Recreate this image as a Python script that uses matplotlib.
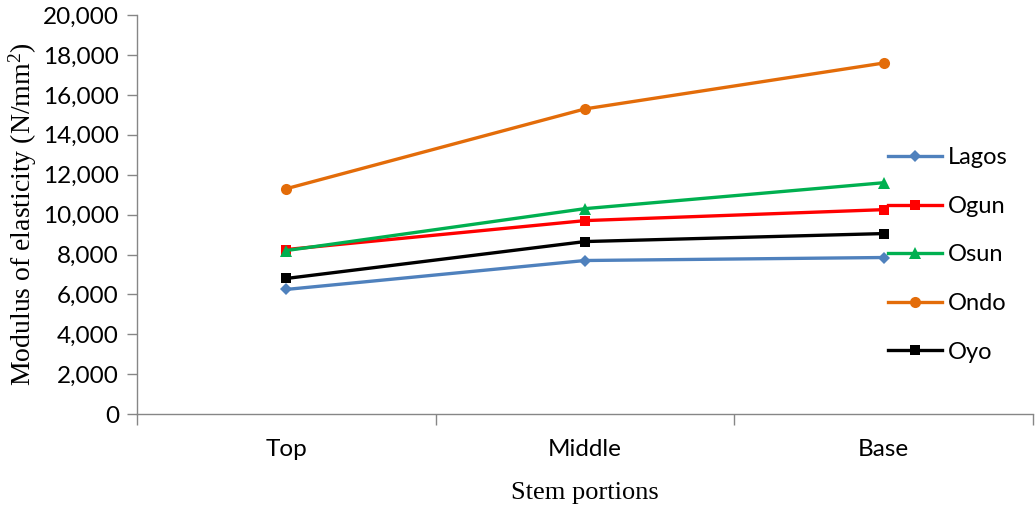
import matplotlib
matplotlib.use("Agg")
import matplotlib.pyplot as plt
from matplotlib.ticker import FuncFormatter, FixedLocator

# Modulus of elasticity by stem portion for five locations
portions = ["Top", "Middle", "Base"]
lagos = [6250, 7700, 7850]
ogun = [8250, 9700, 10250]
osun = [8200, 10300, 11600]
ondo = [11300, 15300, 17600]
oyo = [6800, 8650, 9050]

series = [
    ("Lagos", lagos, "#4F81BD", "D", 6),
    ("Ogun", ogun, "#FF0000", "s", 7.5),
    ("Osun", osun, "#00B050", "^", 8),
    ("Ondo", ondo, "#E36C09", "o", 8),
    ("Oyo", oyo, "#000000", "s", 7.5),
]

plt.rcParams["mathtext.fontset"] = "custom"
plt.rcParams["mathtext.rm"] = "Liberation Serif"
plt.rcParams["mathtext.it"] = "Liberation Serif:italic"

fig = plt.figure(figsize=(10.35, 5.05), dpi=100)
ax = fig.add_axes([0.1324, 0.180, 0.8657, 0.790])

x = list(range(len(portions)))
for name, vals, color, marker, ms in series:
    ax.plot(x, vals, color=color, lw=2.4, marker=marker, markersize=ms,
            markeredgewidth=0, label=name)

ax.set_xlim(-0.5, 2.5)
ax.set_ylim(0, 20000)
ax.set_yticks(range(0, 20001, 2000))
ax.yaxis.set_major_formatter(FuncFormatter(lambda v, p: f"{int(v):,}"))

ax.set_xticks(x)
ax.set_xticklabels(portions)
ax.xaxis.set_minor_locator(FixedLocator([-0.5, 0.5, 1.5, 2.5]))
ax.tick_params(axis="x", which="major", length=0, pad=18)
ax.tick_params(axis="x", which="minor", length=8, color="#868686", width=1)
ax.tick_params(axis="y", length=7, color="#868686", width=1, pad=6)

for lbl in ax.get_xticklabels() + ax.get_yticklabels():
    lbl.set_fontfamily("Lato")
    lbl.set_fontsize(17.5)

for s in ["top", "right"]:
    ax.spines[s].set_visible(False)
for s in ["left", "bottom"]:
    ax.spines[s].set_color("#868686")
    ax.spines[s].set_linewidth(1)

ax.set_xlabel("Stem portions", fontfamily="Liberation Serif", fontsize=19, labelpad=16)
ax.set_ylabel("Modulus of elasticity (N/mm$^{2}$)", fontfamily="Liberation Serif",
              fontsize=20, labelpad=3)

ax.legend(loc="center left", bbox_to_anchor=(0.838, 0.399), frameon=False,
          prop={"family": "Lato", "size": 17}, handlelength=2.3,
          handletextpad=0.25, labelspacing=1.17, borderaxespad=0, borderpad=0)

fig.savefig("out.png", dpi=100)
